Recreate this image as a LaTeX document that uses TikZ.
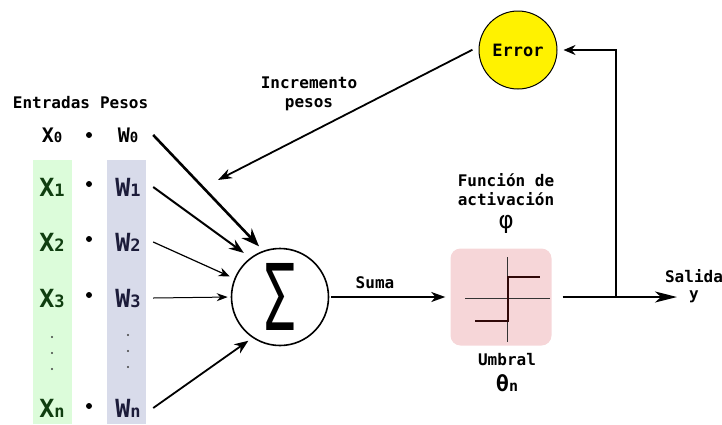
\documentclass[tikz,border=0pt]{standalone}
\usepackage{fontspec}
\setmonofont{DejaVu Sans Mono}
\usepackage{graphicx}
\usetikzlibrary{arrows.meta,positioning}

\definecolor{inband}{RGB}{220,252,218}
\definecolor{wband}{RGB}{216,219,234}
\definecolor{xtext}{RGB}{16,62,16}
\definecolor{wtext}{RGB}{28,28,58}
\definecolor{actpink}{RGB}{246,214,216}
\definecolor{stepline}{RGB}{48,8,8}

\newcommand{\lowidx}[1]{{\fontsize{\subsz}{\subsz}\selectfont#1}}

\begin{document}
\begin{tikzpicture}[x=1pt,y=-1pt,
  lbl/.style={font=\fontsize{16}{19}\selectfont\ttfamily\bfseries,
    align=center,inner sep=0pt},
  bigsym/.style={font=\fontsize{25}{25}\selectfont\ttfamily\bfseries\def\subsz{17},
    inner sep=0pt},
  smallsym/.style={font=\fontsize{20}{20}\selectfont\ttfamily\bfseries\def\subsz{14},
    inner sep=0pt},
  xin/.style={bigsym,text=xtext},
  win/.style={bigsym,text=wtext,minimum width=50pt},
  mul/.style={circle,fill=black,inner sep=0pt,minimum size=6pt},
  vdot/.style={circle,fill=black!75,inner sep=0pt,minimum size=2.2pt},
  arr/.style={-{Stealth[length=12pt,width=9pt,inset=3pt]},line width=1.8pt}
]
  \useasboundingbox (0,0) rectangle (722,424);

  % Bands behind inputs and weights
  \fill[inband] (33,160) rectangle (72,424);
  \fill[wband] (107,160) rectangle (146,424);

  % Headers
  \node[lbl] (ent) at (51.5,103) {Entradas};
  \node[lbl,right=9.6pt of ent] (pes) {Pesos};

  % Inputs and weights
  \node[smallsym] (x0) at (52,135) {X\lowidx{0}};
  \node[mul] (m0) at (89,135) {};
  \node[smallsym,minimum width=50pt] (w0) at (128,135) {W\lowidx{0}};

  \node[xin] (x1) at (52,187) {X\lowidx{1}};
  \node[mul] (m1) at (89,184) {};
  \node[win] (w1) at (128,187) {W\lowidx{1}};

  \node[xin] (x2) at (52,242) {X\lowidx{2}};
  \node[mul] (m2) at (89,239) {};
  \node[win] (w2) at (128,242) {W\lowidx{2}};

  \node[xin] (x3) at (52,298) {X\lowidx{3}};
  \node[mul] (m3) at (89,295) {};
  \node[win] (w3) at (128,298) {W\lowidx{3}};

  \foreach \i/\y in {1/337,2/353,3/369}
    \node[vdot] (xd\i) at (52,\y) {};
  \foreach \i/\y in {1/335,2/351,3/367}
    \node[vdot] (wd\i) at (128,\y) {};

  \node[xin] (xn) at (52,408) {X\lowidx{n}};
  \node[mul] (mn) at (89,406) {};
  \node[win] (wn) at (128,408) {W\lowidx{n}};

  % Summation
  \node[draw,circle,line width=1.6pt,minimum size=97pt,inner sep=0pt,
    font=\fontsize{92}{92}\selectfont\ttfamily] (sum) at (280,297)
    {\scalebox{0.6}[1]{Σ}};

  \draw[arr,line width=2.6pt,-{Stealth[length=18pt,width=14pt,inset=6pt]},
    shorten >=6pt] (w0.east) -- (sum.110);
  \draw[arr,line width=2pt,-{Stealth[length=15pt,width=11pt,inset=5pt]},
    shorten >=8pt] (w1.east) -- (sum.127);
  \draw[arr,line width=1.2pt,-{Stealth[length=11pt,width=9pt,inset=3.5pt]},
    shorten >=5pt] (w2.east) -- (sum.158);
  \draw[arr,line width=1pt,-{Stealth[length=11pt,width=8pt,inset=3.5pt]},
    shorten >=3pt] (w3.east) -- (sum.180);
  \draw[arr,line width=1.8pt,-{Stealth[length=14pt,width=11pt,inset=4.5pt]},
    shorten >=5pt] (wn.east) -- (sum.236);

  % Activation
  \node[rounded corners=10pt,fill=actpink,minimum width=101pt,
    minimum height=97pt] (act) at (501,297) {};
  \draw[line width=1pt,black!80] (465,298) -- (550,298);
  \draw[line width=1pt,black!80] (507,257) -- (507,342);
  \draw[line width=2.6pt,stepline] (475,321) -- (508,321) -- (508,277) -- (540,277);

  \node[lbl] (fname) at (506,190) {Función de\\activación};
  \node[font=\fontsize{24}{24}\selectfont\ttfamily,inner sep=0pt] (phi)
    at (506,224) {φ};
  \node[lbl] (umb) at (507,360) {Umbral};
  \node[smallsym,font=\fontsize{22}{22}\selectfont\ttfamily\bfseries\def\subsz{15}]
    (theta) at (507,383) {θ\lowidx{n}};

  \draw[arr,line width=1.6pt,-{Stealth[length=14pt,width=10pt,inset=4pt]},
    shorten >=5pt,shorten <=2pt] (sum) -- (act);
  \node[lbl] (suma) at (375,283) {Suma};

  % Output
  \node[lbl] (yout) at (694,297) {y};
  \node[lbl,above=8pt of yout] (sal) {Salida};
  \draw[arr,line width=2pt,-{Stealth[length=22pt,width=11pt,inset=6pt]},
    shorten <=11pt,shorten >=12pt] (act) -- (yout);

  % Error feedback
  \node[circle,draw,fill=yellow,line width=1pt,minimum size=78pt,lbl,
    font=\fontsize{17}{19}\selectfont\ttfamily\bfseries] (err) at (518,50) {Error};
  \coordinate (fb) at (616,297);
  \draw[arr,line width=2pt,-{Stealth[length=12pt,width=10pt,inset=4pt]},
    shorten >=6pt] (fb) |- (err);

  \coordinate (inc) at (218,180);
  \draw[arr,-{Stealth[length=14pt,width=10pt,inset=4.5pt]},shorten <=7pt]
    (err.175) -- (inc);
  \node[lbl] (incl) at (309,94) {Incremento\\pesos};
\end{tikzpicture}
\end{document}
